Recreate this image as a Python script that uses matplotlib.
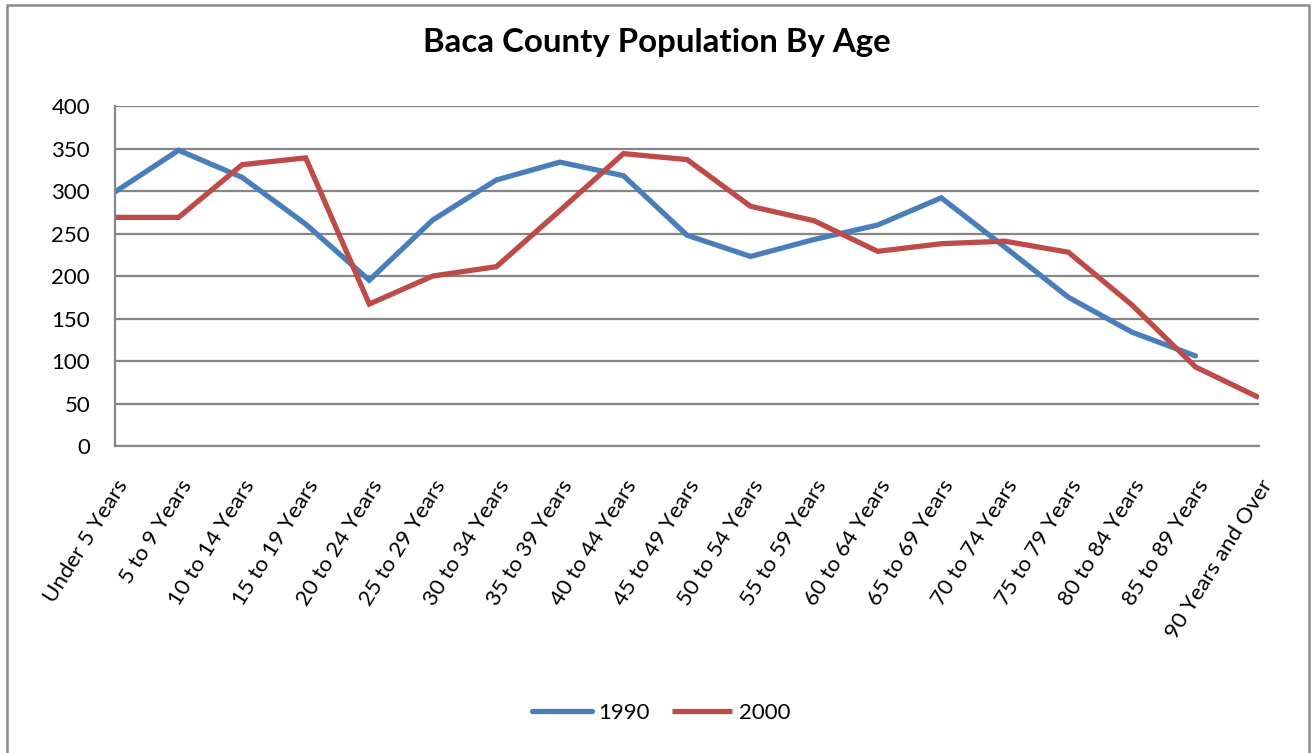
import matplotlib.pyplot as plt
from matplotlib.patches import Rectangle

# данные
age_groups = [
    'Under 5 Years', '5 to 9 Years', '10 to 14 Years', '15 to 19 Years',
    '20 to 24 Years', '25 to 29 Years', '30 to 34 Years', '35 to 39 Years',
    '40 to 44 Years', '45 to 49 Years', '50 to 54 Years', '55 to 59 Years',
    '60 to 64 Years', '65 to 69 Years', '70 to 74 Years', '75 to 79 Years',
    '80 to 84 Years', '85 to 89 Years', '90 Years and Over',
]
pop_1990 = [299, 348, 316, 261, 195, 266, 313, 334, 318, 248, 223, 243,
            260, 292, 234, 175, 134, 106, None]
pop_2000 = [269, 269, 331, 339, 167, 200, 211, 277, 344, 337, 282, 265,
            229, 238, 241, 228, 166, 93, 57]
y_ticks = [0, 50, 100, 150, 200, 250, 300, 350, 400]

plt.rcParams['font.family'] = ['Lato', 'DejaVu Sans']

fig = plt.figure(figsize=(13.12, 7.53), dpi=100)
ax = fig.add_axes([0.0877, 0.4077, 0.8719, 0.4515])

x = list(range(len(age_groups)))
x90 = [i for i, v in zip(x, pop_1990) if v is not None]
y90 = [v for v in pop_1990 if v is not None]
ax.plot(x90, y90, color='#4a7ebb', linewidth=3.8, solid_capstyle='round',
        solid_joinstyle='miter', label='1990')
ax.plot(x, pop_2000, color='#be4b48', linewidth=3.8, solid_capstyle='butt',
        solid_joinstyle='miter', label='2000')

ax.set_xlim(0, len(age_groups) - 1)
ax.set_ylim(0, 400)
ax.set_yticks(y_ticks)
ax.set_yticklabels([str(v) for v in y_ticks], fontsize=16)
ax.set_xticks(x)
ax.set_xticklabels(age_groups, rotation=58, ha='right', va='top',
                   rotation_mode='anchor', fontsize=16)
ax.tick_params(axis='x', length=0, pad=22)
ax.tick_params(axis='y', length=0, pad=18)

ax.grid(axis='y', color='#868686', linewidth=1.6)
ax.set_axisbelow(True)
for s in ['top', 'right']:
    ax.spines[s].set_visible(False)
ax.spines['left'].set_color('#868686')
ax.spines['left'].set_linewidth(1.6)
ax.spines['bottom'].set_color('#868686')
ax.spines['bottom'].set_linewidth(1.6)

fig.text(0.501, 0.943, 'Baca County Population By Age', ha='center', va='center',
         fontsize=23.8, fontweight='bold')

fig.legend(loc='center', bbox_to_anchor=(0.504, 0.053), ncol=2, frameon=False,
           fontsize=16, handlelength=2.7, handletextpad=0.3, columnspacing=1.0)

# рамка вокруг диаграммы
fig.patches.append(Rectangle((0.0055, -0.01), 0.9925, 1.003, transform=fig.transFigure,
                             fill=False, edgecolor='#8c8c8c', linewidth=1.8))

plt.savefig('out.png', dpi=100)
plt.close()
